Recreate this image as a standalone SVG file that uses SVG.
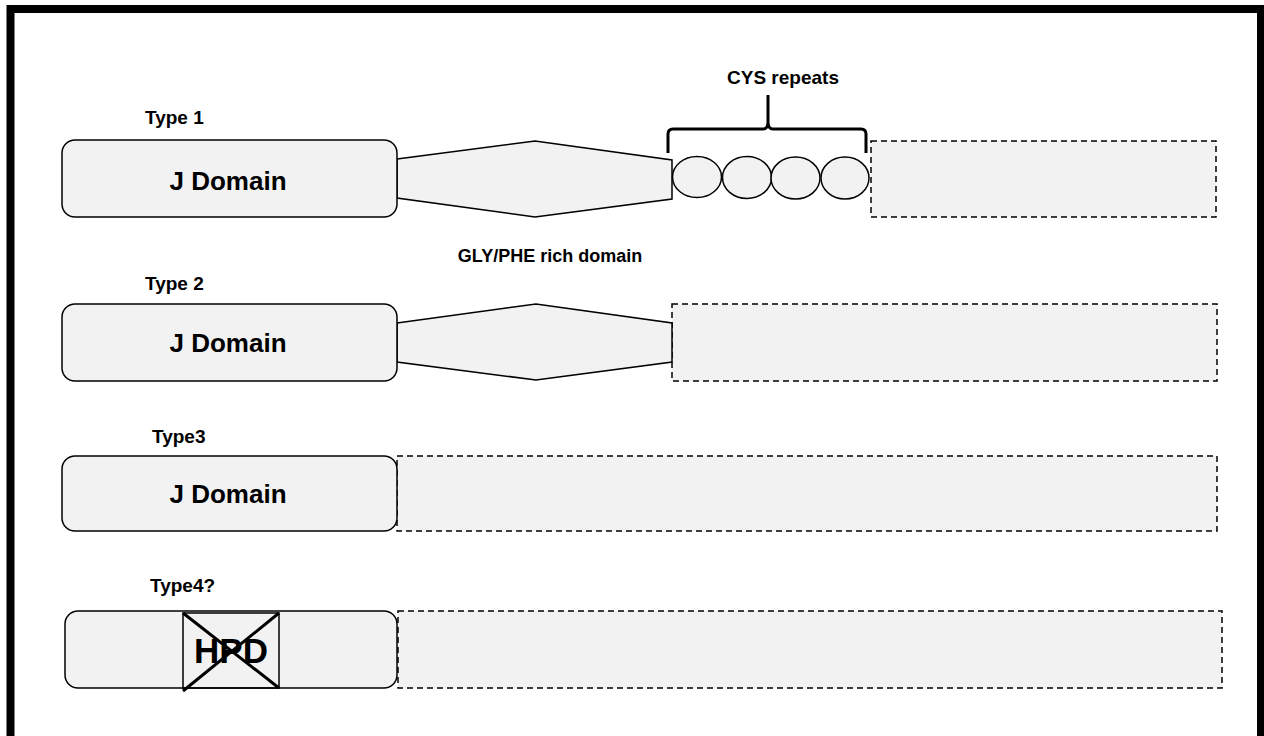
<svg xmlns="http://www.w3.org/2000/svg" width="1264" height="736" viewBox="0 0 1264 736">
  <style>
    .domain { fill: #f2f2f2; stroke: #000; stroke-width: 1.5; }
    .dashed { fill: #f2f2f2; stroke: #000; stroke-width: 1.5; stroke-dasharray: 6 4; }
    .label { font-family: "Liberation Sans", Arial, sans-serif; font-weight: bold; fill: #000; }
    .small { font-size: 19px; }
    .big { font-size: 26px; }
  </style>

  <rect width="1264" height="736" fill="#fff"/>
  <!-- outer frame (open at the bottom) -->
  <rect x="10.5" y="9" width="1250.5" height="780" fill="none" stroke="#000" stroke-width="8"/>

  <!-- Type 1 -->
  <g id="type1">
    <text class="label small" x="145" y="124">Type 1</text>
    <rect class="dashed" x="871" y="141" width="345" height="76"/>
    <polygon class="domain" points="397,159 535,141 672,160 672,199 535,217 397,198"/>
    <g id="cys-repeats">
      <ellipse class="domain" cx="697" cy="177" rx="24.5" ry="20.5"/>
      <ellipse class="domain" cx="747" cy="177.5" rx="24.5" ry="21"/>
      <ellipse class="domain" cx="795.5" cy="178" rx="24.5" ry="21"/>
      <ellipse class="domain" cx="845" cy="178" rx="24" ry="21"/>
      <path d="M668,153 V134 Q668,129 673,129 H763 Q768,129 768,122 V95 M768,122 Q768,129 773,129 H861 Q866,129 866,134 V153" fill="none" stroke="#000" stroke-width="3"/>
      <text class="label small" x="783" y="84" text-anchor="middle">CYS repeats</text>
    </g>
    <rect class="domain" x="62" y="140" width="335" height="77" rx="13"/>
    <text class="label big" x="228" y="190" text-anchor="middle">J Domain</text>
  </g>

  <text id="gly-phe-label" class="label" style="font-size:18px" x="550" y="262" text-anchor="middle">GLY/PHE rich domain</text>

  <!-- Type 2 -->
  <g id="type2">
    <text class="label small" x="145" y="290">Type 2</text>
    <rect class="dashed" x="672" y="304" width="545" height="77"/>
    <polygon class="domain" points="397,323 536,304 672,323 672,362 536,380 397,362"/>
    <rect class="domain" x="62" y="304" width="335" height="77" rx="13"/>
    <text class="label big" x="228" y="352" text-anchor="middle">J Domain</text>
  </g>

  <!-- Type 3 -->
  <g id="type3">
    <text class="label small" x="152" y="443">Type3</text>
    <rect class="dashed" x="397" y="456" width="820" height="75"/>
    <rect class="domain" x="62" y="456" width="335" height="75" rx="13"/>
    <text class="label big" x="228" y="503" text-anchor="middle">J Domain</text>
  </g>

  <!-- Type 4? -->
  <g id="type4">
    <text class="label small" x="150" y="592">Type4?</text>
    <rect class="dashed" x="398" y="611" width="824" height="77"/>
    <rect class="domain" x="65" y="611" width="332" height="77" rx="13"/>
    <rect x="183" y="613" width="96" height="75" fill="none" stroke="#000" stroke-width="1.5"/>
    <text class="label" style="font-size:35px" x="231" y="663" text-anchor="middle">HPD</text>
    <line x1="183" y1="613" x2="279" y2="688" stroke="#000" stroke-width="3"/>
    <line x1="279" y1="613" x2="183" y2="691" stroke="#000" stroke-width="3"/>
  </g>
</svg>
